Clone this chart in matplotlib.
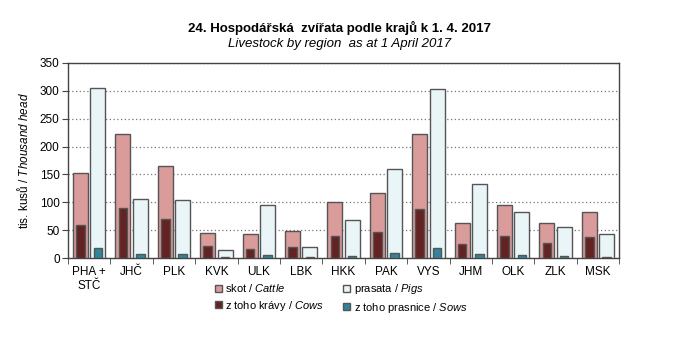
import numpy as np
import matplotlib.pyplot as plt
from matplotlib.patches import Patch

plt.rcParams['font.family'] = ['Liberation Sans', 'DejaVu Sans']
plt.rcParams['mathtext.fontset'] = 'custom'
plt.rcParams['mathtext.rm'] = 'Liberation Sans'
plt.rcParams['mathtext.it'] = 'Liberation Sans:italic'

regions = ["PHA +\nSTČ", "JHČ", "PLK", "KVK", "ULK", "LBK", "HKK",
           "PAK", "VYS", "JHM", "OLK", "ZLK", "MSK"]
cattle = [152.6, 222.6, 165.0, 45.0, 43.0, 48.5, 100.5, 116.7, 222.6, 62.8, 95.0, 62.8, 82.6]
pigs = [305.0, 106.0, 104.0, 14.4, 95.0, 19.7, 68.0, 159.8, 303.4, 132.9, 82.6, 55.7, 43.0]
cows = [59.8, 89.8, 70.0, 21.5, 16.0, 19.7, 39.5, 46.7, 88.0, 25.0, 39.5, 27.0, 37.7]
sows = [18.0, 7.8, 7.8, 2.4, 6.0, 2.4, 3.6, 9.6, 18.0, 7.8, 6.0, 4.2, 1.8]

c_cattle = "#DA9B9B"
c_pigs = "#EAF5F7"
c_cows = "#632323"
c_sows = "#31849B"
edge = "#555555"

fig = plt.figure(figsize=(6.73, 3.46), dpi=100)
ax = fig.add_axes([0.101, 0.254, 0.819, 0.564])

x = np.arange(len(regions))
w_out = 0.355
w_in = 0.2
off = 0.205

ax.bar(x - off, cattle, w_out, color=c_cattle, edgecolor=edge, linewidth=1.0, zorder=3)
ax.bar(x + off, pigs, w_out, color=c_pigs, edgecolor=edge, linewidth=1.0, zorder=3)
ax.bar(x - off, cows, w_in, color=c_cows, edgecolor=edge, linewidth=1.0, zorder=4)
ax.bar(x + off, sows, w_in, color=c_sows, edgecolor=edge, linewidth=1.0, zorder=4)

ax.set_xlim(-0.5, len(regions) - 0.5)
ax.set_ylim(0, 350)
ax.set_yticks(np.arange(0, 351, 50))
ax.yaxis.grid(True, linestyle=(0, (1, 2)), color="#777777", linewidth=0.9, zorder=0)

# labels centred under the groups, tick marks between them
ax.set_xticks(x)
ax.set_xticklabels(regions, fontsize=8.5)
ax.tick_params(axis="x", length=0, pad=6)
ax.set_xticks(np.arange(-0.5, len(regions)), minor=True)
ax.tick_params(axis="x", which="minor", length=4, color="#444444", direction="out")
ax.tick_params(axis="y", labelsize=8.5, length=4, color="#444444", pad=2)

for s in ax.spines.values():
    s.set_color("#444444")
    s.set_linewidth(1.0)

ax.set_ylabel(r"tis. kusů / $\mathit{Thousand\ head}$", fontsize=8.5, labelpad=6)

fig.text(0.505, 0.918, "24. Hospodářská  zvířata podle krajů k 1. 4. 2017",
         ha="center", va="center", fontsize=9.5, fontweight="bold")
fig.text(0.505, 0.873, "Livestock by region  as at 1 April 2017",
         ha="center", va="center", fontsize=9.5, style="italic")

handles = [
    Patch(facecolor=c_cattle, edgecolor=edge, label=r"skot / $\mathit{Cattle}$"),
    Patch(facecolor=c_cows, edgecolor=edge, label=r"z toho krávy / $\mathit{Cows}$"),
    Patch(facecolor=c_pigs, edgecolor=edge, label=r"prasata / $\mathit{Pigs}$"),
    Patch(facecolor=c_sows, edgecolor=edge, label=r"z toho prasnice / $\mathit{Sows}$"),
]
fig.legend(handles=handles, ncol=2, loc="upper left", bbox_to_anchor=(0.311, 0.2),
           frameon=False, fontsize=8, handlelength=0.6, handleheight=0.6,
           handletextpad=0.35, columnspacing=1.7, labelspacing=0.4, borderpad=0)

fig.savefig("out.png", dpi=100)
